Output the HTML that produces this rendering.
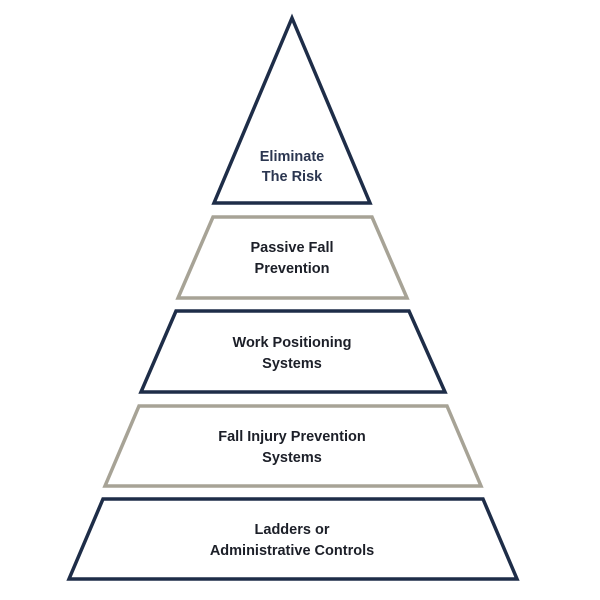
<!DOCTYPE html>
<html><head><meta charset="utf-8"><style>
html,body{margin:0;padding:0;background:#fff;}
svg{display:block;}
text{font-family:"Liberation Sans",sans-serif;font-size:14.5px;font-weight:bold;text-anchor:middle;dominant-baseline:central;fill:#1c1f28;}
</style></head><body>
<svg width="600" height="600" viewBox="0 0 600 600">
<g fill="none" stroke-width="3.5" stroke-linejoin="miter">
<polygon points="292,18 370,203 214,203" stroke="#1e2d48"/>
<polygon points="213,217 372,217 407,298 178,298" stroke="#a7a396"/>
<polygon points="176,311 409,311 445,392 141,392" stroke="#1e2d48"/>
<polygon points="139,406 447,406 481,486 105,486" stroke="#a7a396"/>
<polygon points="103,499 483,499 517,579 69,579" stroke="#1e2d48"/>
</g>
<text x="292" y="157" style="fill:#2b3650">Eliminate</text>
<text x="292" y="177" style="fill:#2b3650">The Risk</text>
<text x="292" y="248">Passive Fall</text>
<text x="292" y="269">Prevention</text>
<text x="292" y="343">Work Positioning</text>
<text x="292" y="364">Systems</text>
<text x="292" y="437">Fall Injury Prevention</text>
<text x="292" y="458">Systems</text>
<text x="292" y="530">Ladders or</text>
<text x="292" y="551">Administrative Controls</text>
</svg>
</body></html>
